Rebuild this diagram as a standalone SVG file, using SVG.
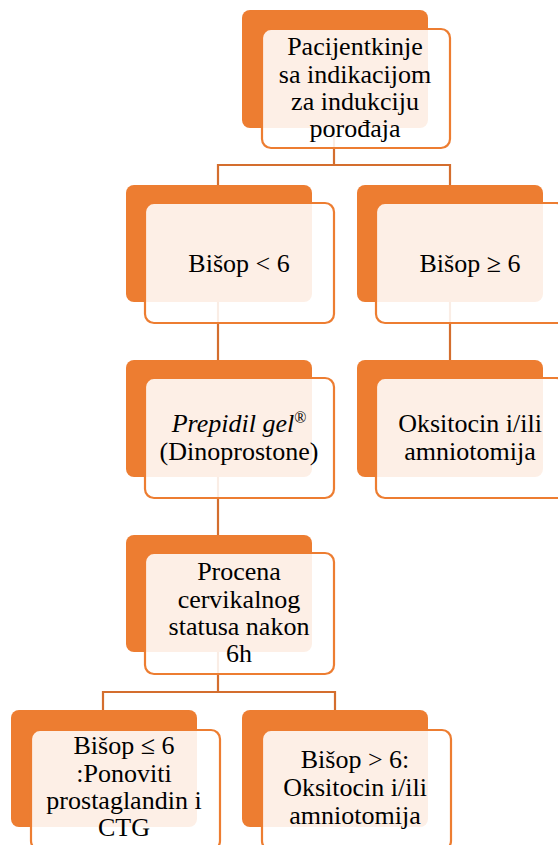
<svg xmlns="http://www.w3.org/2000/svg" width="558" height="845" viewBox="0 0 558 845">
<style>
.back{fill:#ED7D31;}
.front{fill:#FFFFFF;fill-opacity:0.88;stroke:#ED7D31;stroke-width:2.2;}
.conn{fill:none;stroke:#D46E2E;stroke-width:2.2;}
text{font-family:'Liberation Serif','Times New Roman',serif;font-size:26px;fill:#000;text-anchor:middle;}
</style>
<rect width="558" height="845" fill="#FFFFFF"/>
<g id="connectors">
<path class="conn" d="M334,128 V165 H218 V185 M334,165 H450 V185"/>
<path class="conn" d="M218,302 V360"/>
<path class="conn" d="M450,302 V360"/>
<path class="conn" d="M218,477 V535"/>
<path class="conn" d="M218,652 V692 H103 V710 M218,692 H335 V710"/>
</g>
<g id="n-root">
<rect class="back" x="242" y="10" width="186" height="118" rx="8"/>
<rect class="front" x="262" y="29" width="188" height="119" rx="9"/>
<text x="355" y="55">Pacijentkinje</text>
<text x="355" y="82.5">sa indikacijom</text>
<text x="355" y="109.8">za indukciju</text>
<text x="355" y="137">porođaja</text>
</g>
<g id="n-bisop-lt6">
<rect class="back" x="126" y="185" width="186" height="117" rx="8"/>
<rect class="front" x="145" y="203" width="189" height="120" rx="9"/>
<text x="239" y="272">Bišop &lt; 6</text>
</g>
<g id="n-bisop-ge6">
<rect class="back" x="357" y="185" width="186" height="117" rx="8"/>
<rect class="front" x="376" y="203" width="189" height="120" rx="9"/>
<text x="470" y="272">Bišop ≥ 6</text>
</g>
<g id="n-prepidil">
<rect class="back" x="126" y="360" width="186" height="117" rx="8"/>
<rect class="front" x="145" y="378" width="189" height="120" rx="9"/>
<text x="239" y="432"><tspan font-style="italic">Prepidil gel</tspan><tspan font-size="16" dy="-9">®</tspan></text>
<text x="239" y="460">(Dinoprostone)</text>
</g>
<g id="n-oksitocin1">
<rect class="back" x="357" y="360" width="186" height="117" rx="8"/>
<rect class="front" x="376" y="378" width="189" height="120" rx="9"/>
<text x="470" y="432">Oksitocin i/ili</text>
<text x="470" y="460">amniotomija</text>
</g>
<g id="n-procena">
<rect class="back" x="126" y="535" width="186" height="117" rx="8"/>
<rect class="front" x="145" y="553" width="189" height="121" rx="9"/>
<text x="239" y="580">Procena</text>
<text x="239" y="607.5">cervikalnog</text>
<text x="239" y="635">statusa nakon</text>
<text x="239" y="662">6h</text>
</g>
<g id="n-ponoviti">
<rect class="back" x="11" y="710" width="186" height="117" rx="8"/>
<rect class="front" x="31" y="730" width="189" height="120" rx="9"/>
<text x="124" y="754">Bišop ≤ 6</text>
<text x="124" y="781.5">:Ponoviti</text>
<text x="124" y="808.5">prostaglandin i</text>
<text x="124" y="836">CTG</text>
</g>
<g id="n-oksitocin2">
<rect class="back" x="242" y="710" width="186" height="117" rx="8"/>
<rect class="front" x="262" y="730" width="189" height="120" rx="9"/>
<text x="355" y="768">Bišop &gt; 6:</text>
<text x="355" y="796">Oksitocin i/ili</text>
<text x="355" y="824">amniotomija</text>
</g>
</svg>
